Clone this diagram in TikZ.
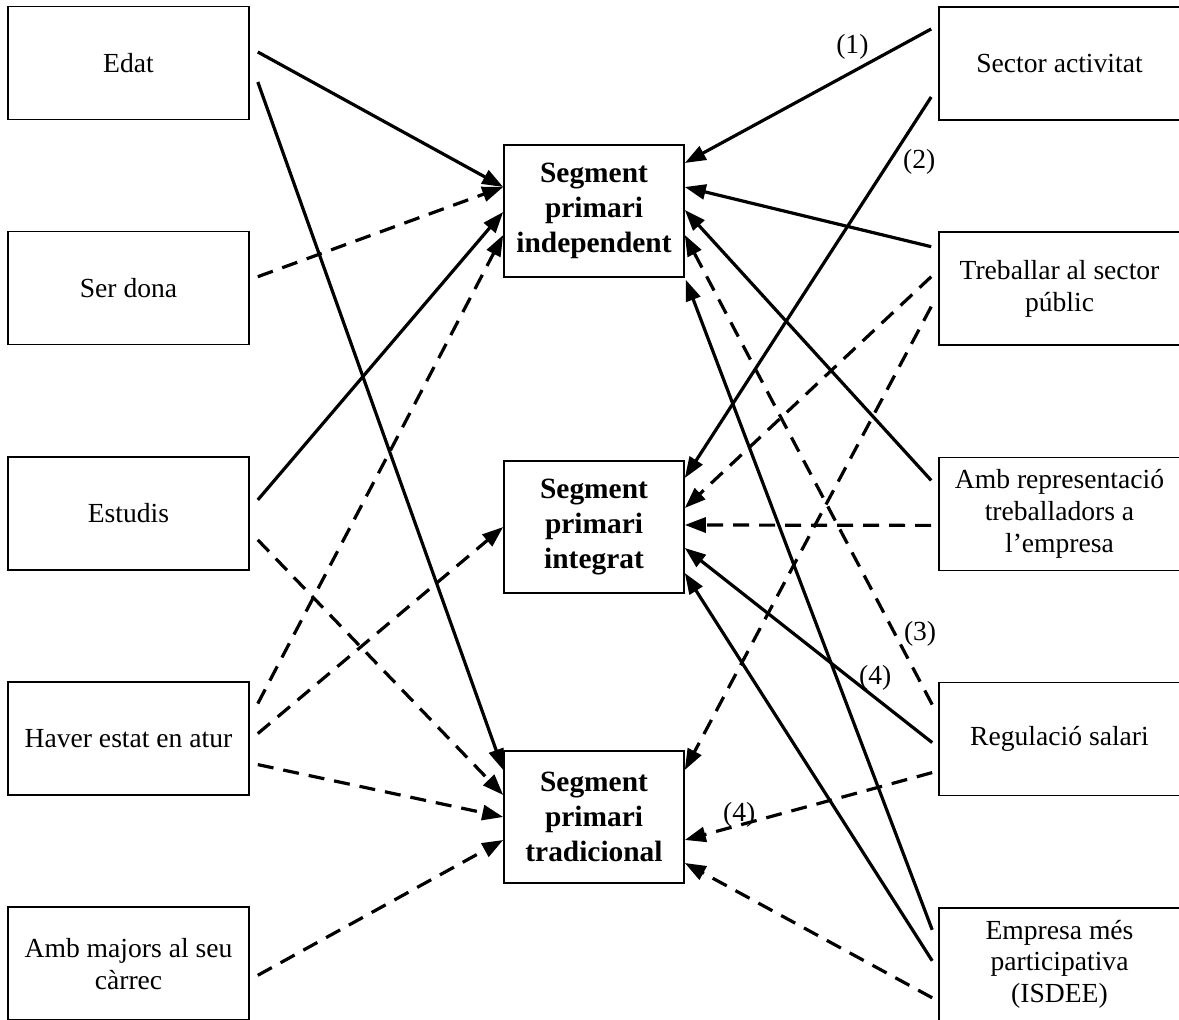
\documentclass[tikz,border=0pt]{standalone}
\usepackage{fontspec}
\setmainfont{Liberation Serif}
\usetikzlibrary{arrows.meta,calc,positioning}
\tikzset{
    factor/.style = {rectangle,
                    fill=white,
                    draw=black,
                    text=black,
                    line width=0.8pt,
                    align=center,
                    inner sep=0pt,
                    minimum width=120.5pt,
                    minimum height=56.5pt,
                    font=\fontsize{13.8}{15.8}\selectfont},
    segment/.style = {rectangle,
                    fill=white,
                    draw=black,
                    text=black,
                    line width=0.8pt,
                    align=center,
                    inner sep=0pt,
                    minimum width=90pt,
                    minimum height=66pt,
                    font=\fontsize{14.7}{17.5}\selectfont\bfseries},
    link/.style =   {line width=1.6pt,
                    black,
                    -{Triangle[length=10.5pt,width=7.5pt]}},
    dlink/.style =  {link,
                    dash pattern=on 8pt off 5pt},
    num/.style =    {inner sep=0pt,
                    font=\fontsize{13.8}{15.8}\selectfont},
    node distance=112.6pt}

\begin{document}
\begin{tikzpicture}[x=0.5pt,y=-0.5pt]
                \useasboundingbox (0,0) rectangle (1179,1020);
                % variables de l'esquerra
                \node[factor]   (edat)    at (128.5,63)          {Edat};
                \node[factor]   (dona)    [below of=edat]        {Ser dona};
                \node[factor]   (estudis) [below of=dona]        {Estudis};
                \node[factor]   (atur)    [below of=estudis]     {Haver estat en atur};
                \node[factor]   (majors)  [below of=atur]        {Amb majors al seu\\càrrec};
                % segments
                \node[segment]  (ind)     at (594,211)           {Segment\\primari\\independent};
                \node[segment]  (int)     at (594,527)           {Segment\\primari\\integrat};
                \node[segment]  (trad)    at (594,817)           {Segment\\primari\\tradicional};
                % variables de la dreta
                \node[factor]   (sector)  at (1059.5,63.5)       {Sector activitat};
                \node[factor]   (public)  [below of=sector]      {Treballar al sector\\públic};
                \node[factor]   (repr)    [below of=public]      {Amb representació\\treballadors a\\l’empresa};
                \node[factor]   (salari)  [below of=repr]        {Regulació salari};
                \node[factor]   (empresa) [below of=salari]      {Empresa més\\participativa\\(ISDEE)};

                \path [link]    ($(edat.east)+(8,-11)$)      edge []  ($(ind.west)+(0,-24)$)
                                ($(edat.east)+(8,19)$)       edge []  ($(trad.west)+(0,-47)$)
                                ($(estudis.east)+(8,-13.5)$) edge []  ($(ind.west)+(0,1)$);
                \path [dlink]   ($(dona.east)+(8,-11.5)$)    edge []  ($(ind.west)+(0,-24)$)
                                ($(estudis.east)+(8,26.5)$)  edge []  ($(trad.west)+(0,-22)$)
                                ($(atur.east)+(8,-35)$)      edge []  ($(ind.west)+(0,24)$)
                                ($(atur.east)+(8,-5)$)       edge []  (int.west)
                                ($(atur.east)+(8,26)$)       edge []  (trad.west)
                                ($(majors.east)+(8,11.5)$)   edge []  ($(trad.west)+(0,23)$);

                \path [link]    ($(sector.west)+(-7,-34.5)$) edge []  node [num,pos=0.32,yshift=12.5pt] {(1)} ($(ind.east)+(0,-48)$)
                                ($(sector.west)+(-7,33.5)$)  edge []  node [num,pos=0.17,xshift=15pt] {(2)} ($(int.east)+(0,-49)$)
                                ($(public.west)+(-7,-42)$)   edge []  ($(ind.east)+(0,-24)$)
                                ($(repr.west)+(-7,-33.5)$)   edge []  ($(ind.east)+(0,-1)$)
                                ($(salari.west)+(-6,3.5)$)   edge []  node [num,pos=0.23,yshift=10pt] {(4)} ($(int.east)+(0,21)$)
                                ($(empresa.west)+(-6,-34.5)$) edge [] ($(ind.south east)+(1,2)$)
                                ($(empresa.west)+(-6,-3.5)$) edge []  ($(int.east)+(0,46)$);
                \path [dlink]   ($(public.west)+(-7,-12)$)   edge []  ($(int.east)+(0,-19)$)
                                ($(public.west)+(-7,18)$)    edge []  ($(trad.east)+(0,-47)$)
                                ($(repr.west)+(-7,11.5)$)    edge []  ($(int.east)+(0,-2)$)
                                ($(salari.west)+(-6,-34.5)$) edge []  node [num,pos=0.15,xshift=12.5pt] {(3)} ($(ind.east)+(0,24)$)
                                ($(salari.west)+(-6,33.5)$)  edge []  node [num,pos=0.78,yshift=5pt] {(4)} ($(trad.east)+(0,23)$)
                                ($(empresa.west)+(-6,33.5)$) edge []  ($(trad.east)+(0,46)$);
        \end{tikzpicture}
\end{document}
